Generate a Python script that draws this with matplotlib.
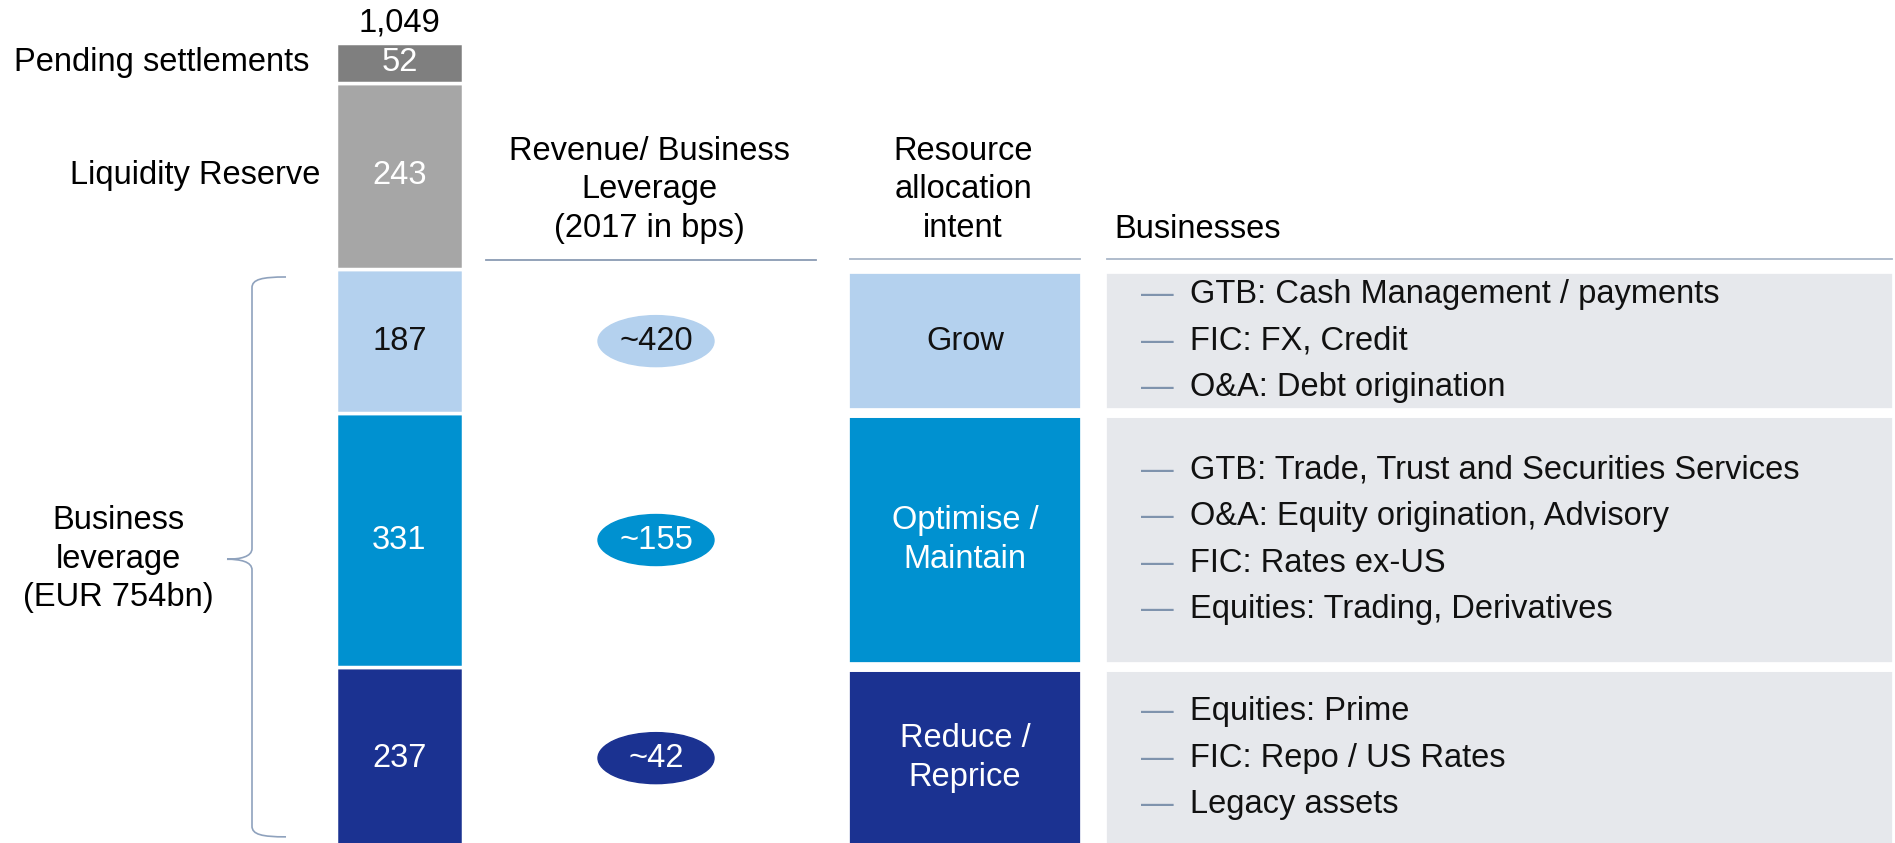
import matplotlib.pyplot as plt
from matplotlib.patches import Ellipse, PathPatch
from matplotlib.path import Path

plt.rcParams['font.family'] = ['Liberation Sans', 'DejaVu Sans']

# dados (de baixo para cima)
seg_names = ['Reduce', 'Optimise', 'Grow', 'Liquidity Reserve', 'Pending settlements']
seg_values = [237, 331, 187, 243, 52]
seg_colors = ['#1B3291', '#0091D0', '#B4D1EE', '#A6A6A6', '#7F7F7F']
seg_text_colors = ['white', 'white', '#111111', 'white', 'white']
total_label = '1,049'

bps_labels = ['~42', '~155', '~420']
intent_labels = ['Reduce /\nReprice', 'Optimise /\nMaintain', 'Grow']
businesses = [
    ['Equities: Prime', 'FIC: Repo / US Rates', 'Legacy assets'],
    ['GTB: Trade, Trust and Securities Services', 'O&A: Equity origination, Advisory',
     'FIC: Rates ex-US', 'Equities: Trading, Derivatives'],
    ['GTB: Cash Management / payments', 'FIC: FX, Credit', 'O&A: Debt origination'],
]

W, H = 1895, 843
SCALE = 0.768  # px por unidade
Y0 = 8
YTOP = Y0 + H / SCALE


def py(p):
    return YTOP - p / SCALE


fig = plt.figure(figsize=(W / 100, H / 100), dpi=100)
ax = fig.add_axes([0, 0, 1, 1])
ax.set_xlim(0, W)
ax.set_ylim(Y0, YTOP)
ax.axis('off')

bottoms = [sum(seg_values[:i]) for i in range(len(seg_values))]
mids = [b + v / 2 for b, v in zip(bottoms, seg_values)]
FS = 23.5
LS = 1.32

# barra empilhada
ax.bar(399.5, seg_values, bottom=bottoms, width=127, color=seg_colors,
       edgecolor='white', linewidth=2.5)
for m, v, c in zip(mids, seg_values, seg_text_colors):
    ax.text(399.5, m, str(v), ha='center', va='center', color=c, fontsize=FS)
ax.annotate(total_label, (399.5, bottoms[-1] + seg_values[-1]), xytext=(0, 3),
            textcoords='offset points', ha='center', va='bottom', fontsize=FS)

ax.text(309, mids[4], seg_names[4], ha='right', va='center', fontsize=FS)
ax.text(320, mids[3], seg_names[3], ha='right', va='center', fontsize=FS)

blue_top = bottoms[3]
ax.text(118, blue_top / 2, 'Business\nleverage\n(EUR 754bn)', ha='center', va='center',
        fontsize=FS, linespacing=LS)

# chave
t, b, m = blue_top - 10, Y0 + 8, blue_top / 2
d = 14
verts = [(286, t), (262, t), (252, t - 3), (252, t - d),
         (252, m + d),
         (252, m + 3), (240, m), (227, m),
         (240, m), (252, m - 3), (252, m - d),
         (252, b + d),
         (252, b + 3), (262, b), (286, b)]
codes = [Path.MOVETO, Path.CURVE4, Path.CURVE4, Path.CURVE4,
         Path.LINETO,
         Path.CURVE4, Path.CURVE4, Path.CURVE4,
         Path.CURVE4, Path.CURVE4, Path.CURVE4,
         Path.LINETO,
         Path.CURVE4, Path.CURVE4, Path.CURVE4]
ax.add_patch(PathPatch(Path(verts, codes), fill=False, edgecolor='#8FA2BD', lw=1.2))

# cabeçalhos
line_c = '#8A9BB3'
ax.text(649, py(190), 'Revenue/ Business\nLeverage\n(2017 in bps)', ha='center', va='center',
        fontsize=FS, linespacing=LS)
ax.text(963, py(190), 'Resource\nallocation\nintent', ha='center', va='center',
        fontsize=FS, linespacing=LS)
ax.text(1114, py(230), 'Businesses', ha='left', va='center', fontsize=FS)
ax.plot([486, 816], [py(260)] * 2, color=line_c, lw=1.3)
ax.plot([850, 1080], [py(259)] * 2, color='#A9B6C8', lw=1.3)
ax.plot([1107, 1892], [py(259)] * 2, color='#A9B6C8', lw=1.3)

blue_vals = seg_values[:3]
blue_bottoms = bottoms[:3]
blue_mids = mids[:3]
blue_colors = seg_colors[:3]

# elipses
for m, lab, c, tc in zip(blue_mids, bps_labels, blue_colors, seg_text_colors[:3]):
    ax.add_patch(Ellipse((656, m), 116, 51 / SCALE, color=c))
    ax.text(656, m, lab, ha='center', va='center', color=tc, fontsize=FS)

# intenção
ax.bar(965, blue_vals, bottom=blue_bottoms, width=240, color=blue_colors,
       edgecolor='white', linewidth=7)
for m, lab, tc in zip(blue_mids, intent_labels, seg_text_colors[:3]):
    ax.text(965, m, lab, ha='center', va='center', color=tc, fontsize=FS, linespacing=LS)

# negócios
ax.bar(1499.5, blue_vals, bottom=blue_bottoms, width=795, color='#E6E8EC',
       edgecolor='white', linewidth=7)
step = 46.5 / SCALE
for m, items in zip(blue_mids, businesses):
    n = len(items)
    for k, item in enumerate(items):
        y = m + ((n - 1) / 2 - k) * step
        ax.text(1157, y, '—', ha='center', va='center', color='#7F93AD', fontsize=FS)
        ax.text(1190, y, item, ha='left', va='center', color='#111111', fontsize=FS)

fig.savefig('out.png', dpi=100)
